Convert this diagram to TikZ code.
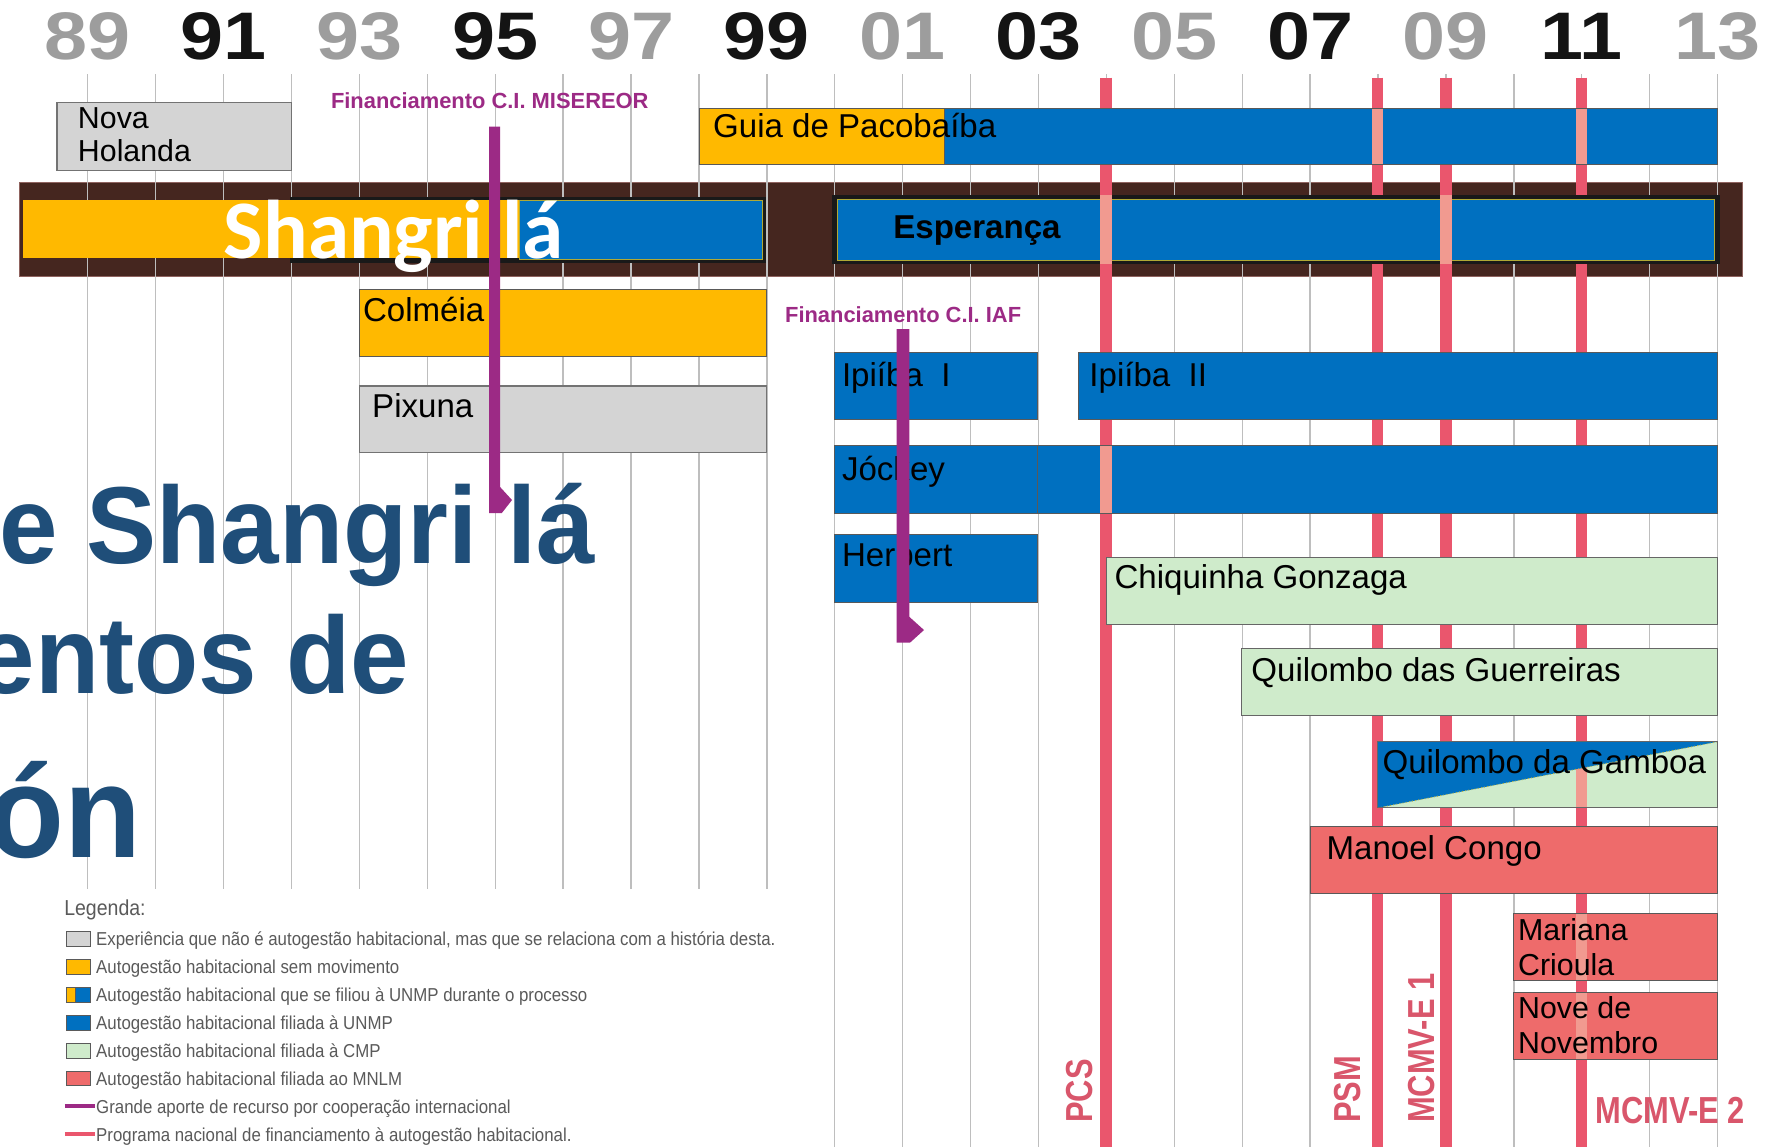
\documentclass[tikz,border=0pt]{standalone}
\usepackage{fontspec}
\setmainfont{Liberation Sans}
\newfontfamily\yearfont[FakeStretch=1.15]{Liberation Sans}
\newfontfamily\condfont[FakeStretch=0.82]{Liberation Sans}
\newfontfamily\legfont[FakeStretch=0.9]{Liberation Sans}
\newfontfamily\titlefont[FakeStretch=0.96]{Liberation Sans}
\newfontfamily\carlitofont{Carlito}
\definecolor{orangebox}{HTML}{FFB900}
\definecolor{bluebox}{HTML}{0070C0}
\definecolor{graybox}{HTML}{D4D4D4}
\definecolor{greenbox}{HTML}{CFEBCB}
\definecolor{redbox}{HTML}{EE6B6B}
\definecolor{programred}{HTML}{EA566D}
\definecolor{stripepink}{HTML}{F19A90}
\definecolor{cooppurple}{HTML}{9C2A85}
\definecolor{framebrown}{HTML}{45261F}
\definecolor{yeargray}{HTML}{9D9D9D}
\definecolor{titleblue}{HTML}{1F4E79}
\definecolor{legendgray}{HTML}{5A5A5A}
\definecolor{labelred}{HTML}{D9566B}
\definecolor{gridgray}{HTML}{BEBEBE}
\begin{document}
\begin{tikzpicture}[x=0.5pt,y=-0.5pt]
\tikzstyle{grid line}=[gridgray,line width=0.6pt]
\tikzstyle{program line}=[programred,line width=5pt]
\tikzstyle{pink stripe}=[stripepink,line width=5pt]
\tikzstyle{gray bar}=[fill=graybox,draw=gray!90!black,line width=0.5pt]
\tikzstyle{orange bar}=[fill=orangebox,draw=gray!70!black,line width=0.4pt]
\tikzstyle{blue bar}=[fill=bluebox,draw=black!65,line width=0.4pt]
\tikzstyle{green bar}=[fill=greenbox,draw=gray!80!black,line width=0.4pt]
\tikzstyle{red bar}=[fill=redbox,draw=gray!70!black,line width=0.4pt]
\tikzstyle{bar label}=[inner sep=0,anchor=base west,font=\fontsize{14.5}{17}\selectfont]
\tikzstyle{small label}=[bar label,font=\fontsize{13.3}{16}\selectfont]
\tikzstyle{year label}=[inner sep=0,anchor=base,font=\yearfont\bfseries\fontsize{29.5}{30}\selectfont]
\tikzstyle{program label}=[inner sep=0,anchor=base west,text=labelred,font=\condfont\bfseries\fontsize{16.5}{18}\selectfont]
\tikzstyle{coop label}=[inner sep=0,anchor=base,text=cooppurple,font=\bfseries\fontsize{9.6}{11}\selectfont]
\tikzstyle{coop arrow}=[fill=cooppurple]
\tikzstyle{title line}=[inner sep=0,anchor=base east,text=titleblue,font=\titlefont\bfseries\fontsize{48}{50}\selectfont]
\tikzstyle{legend text}=[inner sep=0,anchor=base west,text=legendgray,font=\legfont\fontsize{8.2}{9}\selectfont]
\tikzstyle{swatch}=[draw=legendgray,line width=0.5pt]

\useasboundingbox (0,0) rectangle (1568,1006);
\clip (0,0) rectangle (1568,1006);
\fill[white] (0,0) rectangle (1568,1006);

\filldraw[fill=framebrown,draw=framebrown!60!pink,line width=0.3pt] (17,159.5) rectangle (1528,242.5);
\foreach \t in {0,...,10} \draw[grid line] ({77+59.55*\t},65) -- ({77+59.55*\t},780);
\foreach \t in {11,...,24} \draw[grid line] ({77+59.55*\t},65) -- ({77+59.55*\t},1006);
\foreach \x in {970,1208,1268,1387} \draw[program line] (\x,68) -- (\x,1006);

\foreach \yr/\t/\c in {89/0/yeargray,91/2/black!92,93/4/yeargray,95/6/black!92,97/8/yeargray,99/10/black!92,01/12/yeargray,03/14/black!92,05/16/yeargray,07/18/black!92,09/20/yeargray,11/22/black!92,13/24/yeargray}
  \node(y\yr)[year label,text=\c] at ({77+59.55*\t},52.5) {\yr};

\filldraw[gray bar] (50,90) rectangle (256,149.5);
\filldraw[orange bar] (613,95) rectangle (828,144);
\filldraw[blue bar] (828,95) rectangle (1506,144);
\draw[pink stripe] (1208,95.5) -- (1208,143.5) (1387,95.5) -- (1387,143.5);

\fill[black!90] (254,172.5) rectangle (672,231);
\fill[orangebox] (20.5,175.5) rectangle (455,226.5);
\filldraw[fill=bluebox,draw=olive!70,line width=0.3pt] (455,176) rectangle (668.8,227.5);
\fill[black!90] (730,171) rectangle (1508,231.5);
\filldraw[fill=bluebox,draw=olive!70,line width=0.3pt] (734,174.5) rectangle (1503,228.5);
\draw[pink stripe] (970,171) -- (970,231.5) (1268,171) -- (1268,231.5);

\filldraw[orange bar] (315,254) rectangle (672,313);
\filldraw[gray bar] (315,338.5) rectangle (672,396.5);
\filldraw[blue bar] (732,309.5) rectangle (910,367.5);
\filldraw[blue bar] (946,309.5) rectangle (1506,367.5);
\filldraw[blue bar] (732,391) rectangle (910,450);
\filldraw[blue bar] (910,391) rectangle (1506,450);
\draw[pink stripe] (970,391.5) -- (970,449.5);
\filldraw[blue bar] (732,469) rectangle (910,528);
\filldraw[green bar] (970,489) rectangle (1506,548);
\filldraw[green bar] (1089,568.5) rectangle (1506,627.5);
\fill[greenbox] (1208,650.5) rectangle (1506,708.5);
\draw[pink stripe] (1387,651) -- (1387,708);
\fill[bluebox] (1208,650.5) -- (1506,650.5) -- (1208,708.5) -- cycle;
\draw[yellow!70!black,densely dotted,line width=0.4pt] (1208,708.5) -- (1506,650.5);
\draw[gray!80!black,line width=0.4pt] (1208,650.5) rectangle (1506,708.5);
\filldraw[red bar] (1149,725) rectangle (1506,783.5);
\filldraw[red bar] (1327.5,801) rectangle (1506,859.5);
\filldraw[red bar] (1327.5,870.5) rectangle (1506,929);
\draw[pink stripe] (1387,801.5) -- (1387,859) (1387,871) -- (1387,928.5);

\node(nova)[small label] at (68,112.5) {Nova};
\node(holanda)[small label] at (68,142) {Holanda};
\node(guia)[bar label] at (625,121) {Guia de Pacobaíba};
\node(shangri)[inner sep=0,anchor=base west,text=white,font=\carlitofont\bfseries\fontsize{36.5}{38}\selectfont] at (196,226.5) {Shangri lá};
\node(esperanca)[bar label,font=\bfseries\fontsize{14.5}{17}\selectfont] at (783,209) {Esperança};
\node(colmeia)[bar label] at (318,282) {Colméia};
\node(pixuna)[bar label] at (326,366) {Pixuna};
\node(ipiiba1)[bar label] at (738,339) {Ipiíba\ \ I};
\node(ipiiba2)[bar label] at (955,339) {Ipiíba\ \ II};
\node(jockey)[bar label] at (738,421) {Jóckey};
\node(herbert)[bar label] at (738,497) {Herbert};
\node(chiquinha)[bar label] at (977,516.5) {Chiquinha Gonzaga};
\node(guerreiras)[bar label] at (1097,597.5) {Quilombo das Guerreiras};
\node(gamboa)[bar label] at (1212,678) {Quilombo da Gamboa};
\node(manoel)[bar label] at (1163,753.5) {Manoel Congo};
\node(mariana)[small label] at (1331,825) {Mariana};
\node(crioula)[small label] at (1331,855.5) {Crioula};
\node(nove)[small label] at (1331,893.5) {Nove de};
\node(novembro)[small label] at (1331,923.5) {Novembro};

\node(misereor)[coop label] at (429.5,95) {Financiamento C.I. MISEREOR};
\fill[coop arrow] (429,111) -- (438.5,111) -- (438.5,427) -- (449,438.5) -- (440,450) -- (429,450) -- cycle;
\node(iaf)[coop label] at (792,282.5) {Financiamento C.I. IAF};
\fill[coop arrow] (786.3,288.6) -- (797.5,288.6) -- (797.5,541) -- (810.3,552.5) -- (798,563.6) -- (786.3,563.6) -- cycle;

\node(pcs)[program label,rotate=90] at (958.5,985) {PCS};
\node(psm)[program label,rotate=90] at (1193.5,985) {PSM};
\node(mcmv1)[program label,rotate=90] at (1258,985) {MCMV-E 1};
\node(mcmv2)[program label] at (1399,985) {MCMV-E 2};

\node(title1)[title line] at (522,494) {e Shangri lá};
\node(title2)[title line] at (359,608) {entos de};
\node(title3)[title line,font=\titlefont\bfseries\fontsize{57.5}{60}\selectfont] at (124,752) {ón};

\node(legenda)[legend text,font=\legfont\fontsize{9.5}{10}\selectfont] at (56,803) {Legenda:};
\filldraw[swatch,fill=graybox] (58.5,817.1) rectangle (79.5,830.1);
\filldraw[swatch,fill=orangebox] (58.5,841.5) rectangle (79.5,854.5);
\filldraw[swatch,fill=orangebox] (58.5,866) rectangle (66.4,879);
\filldraw[swatch,fill=bluebox] (66.4,866) rectangle (79.5,879);
\filldraw[swatch,fill=bluebox] (58.5,890.5) rectangle (79.5,903.5);
\filldraw[swatch,fill=greenbox] (58.5,914.9) rectangle (79.5,927.9);
\filldraw[swatch,fill=redbox] (58.5,939.3) rectangle (79.5,952.3);
\draw[cooppurple,line width=1.75pt] (57,970.3) -- (83,970.3);
\draw[programred,line width=1.75pt] (57,994.7) -- (83,994.7);
\foreach \i/\txt in {1/{Experiência que não é autogestão habitacional, mas que se relaciona com a história desta.},2/{Autogestão habitacional sem movimento},3/{Autogestão habitacional que se filiou à UNMP durante o processo},4/{Autogestão habitacional filiada à UNMP},5/{Autogestão habitacional filiada à CMP},6/{Autogestão habitacional filiada ao MNLM},7/{Grande aporte de recurso por cooperação internacional},8/{Programa nacional de financiamento à autogestão habitacional.}}
  \node(leg\i)[legend text] at (84,{805.05+24.45*\i}) {\txt};
\end{tikzpicture}
\end{document}
